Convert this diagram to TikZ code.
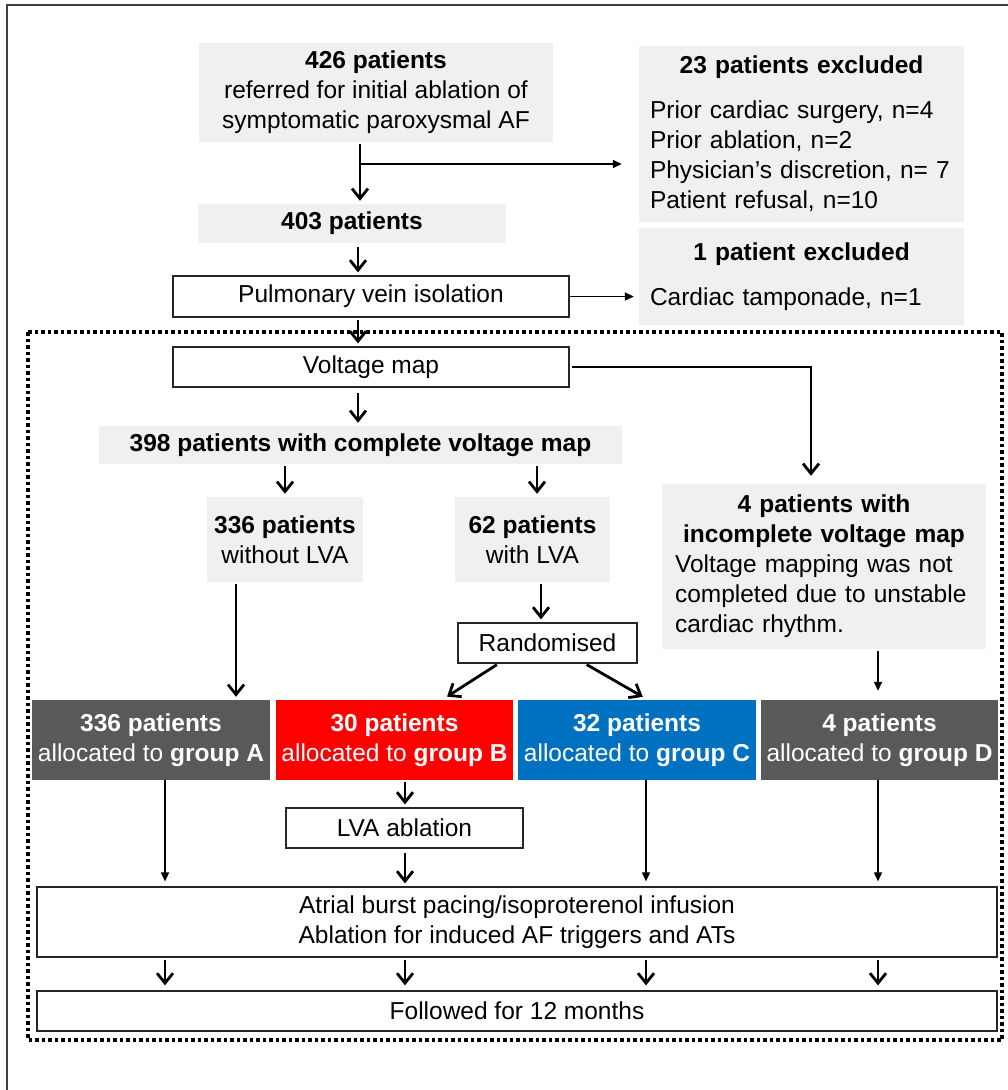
\documentclass[tikz,border=0pt]{standalone}
\usepackage{fontspec}
\setmainfont{Liberation Sans}
\usetikzlibrary{arrows.meta}
\usetikzlibrary{positioning}
\usetikzlibrary{calc}
\definecolor{grisclair}{HTML}{F0F0F0}
\definecolor{grisfonce}{HTML}{595959}
\definecolor{rouge}{HTML}{FF0000}
\definecolor{bleu}{HTML}{0070C0}
\tikzstyle{gris}=[
        rectangle,
        fill=grisclair,
        inner sep=0pt,
        align=center,
        font=\fontsize{24.5}{30}\selectfont
]
\tikzstyle{cadre}=[
        rectangle,
        draw=black!85,
        line width=1.2pt,
        fill=white,
        inner sep=0pt,
        align=center,
        font=\fontsize{24.5}{30}\selectfont
]
\tikzstyle{groupe}=[rectangle,text=white,inner sep=0pt,align=center,
minimum width=237pt,minimum height=80pt,font=\fontsize{24.5}{30}\selectfont]
\tikzstyle{suite}=[-{Straight Barb[length=10pt,width=16pt]},line width=2.8pt,
shorten >=3pt,shorten <=2pt]
\tikzstyle{fine}=[-{Triangle[length=9pt,width=8pt]},line width=1.5pt,shorten >=5pt]
\tikzstyle{pointille}=[line width=3.5pt,dash pattern=on 3.5pt off 3pt]

\begin{document}
\begin{tikzpicture}[x=1pt,y=-1pt]
\useasboundingbox (0,0) rectangle (1008,1090);
\draw[line width=2pt,black!75] (1008,5) -- (7,5) -- (7,1090);
\draw[pointille] (28,332) rectangle (1002,1040);
\node[gris,minimum width=354pt,minimum height=99pt] (a) at (376,92.5)
 {\textbf{426 patients}\\referred for initial ablation of\\symptomatic paroxysmal AF};
\node[gris,text width=303pt,inner xsep=11pt,minimum height=176pt,align=left] (e1) at (801.5,134)
 {\centering\textbf{23 patients excluded}\par\vspace{15pt}\raggedright
 Prior cardiac surgery, n=4\\Prior ablation, n=2\\Physician’s discretion, n= 7\\Patient refusal, n=10};
\node[gris,minimum width=308pt,minimum height=39pt] (b) at (352,223.5) {\textbf{403 patients}};
\node[gris,text width=303pt,inner xsep=11pt,minimum height=97pt,align=left] (e2) at (801.5,276.5)
 {\centering\textbf{1 patient excluded}\par\vspace{15pt}\raggedright Cardiac tamponade, n=1};
\node[cadre,minimum width=396pt,minimum height=41pt] (pvi) at (371,296.5) {Pulmonary vein isolation};
\node[cadre,minimum width=396pt,minimum height=40pt] (vm) at (371,367) {Voltage map};
\node[gris,minimum width=523pt,minimum height=38pt] (c) at (360.5,445)
 {\textbf{398 patients with complete voltage map}};
\node[gris,minimum width=156pt,minimum height=85pt] (s336) at (285,539.5)
 {\textbf{336 patients}\\without LVA};
\node[gris,minimum width=155pt,minimum height=85pt] (s62) at (532.5,539.5)
 {\textbf{62 patients}\\with LVA};
\node[gris,text width=298pt,inner xsep=13pt,minimum height=165pt,align=left] (s4) at (824,566.5)
 {\centering\textbf{4 patients with}\\\textbf{incomplete voltage map}\par\raggedright
 Voltage mapping was not\\completed due to unstable\\cardiac rhythm.};
\node[cadre,minimum width=179pt,minimum height=40pt] (rnd) at (547.5,643) {Randomised};
\node[groupe,fill=grisfonce,minimum width=238pt] (gA) at (151,740)
 {\textbf{336 patients}\\allocated to \textbf{group A}};
\node[groupe,fill=rouge] (gB) at (394.5,740)
 {\textbf{30 patients}\\allocated to \textbf{group B}};
\node[groupe,fill=bleu,minimum width=238pt] (gC) at (637,740)
 {\textbf{32 patients}\\allocated to \textbf{group C}};
\node[groupe,fill=grisfonce] (gD) at (879.5,740)
 {\textbf{4 patients}\\allocated to \textbf{group D}};
\node[cadre,minimum width=237pt,minimum height=40pt] (lva) at (404.5,828) {LVA ablation};
\node[cadre,minimum width=960pt,minimum height=70pt] (atr) at (517,922)
 {Atrial burst pacing/isoproterenol infusion\\Ablation for induced AF triggers and ATs};
\node[cadre,minimum width=960pt,minimum height=40pt] (fol) at (517,1011) {Followed for 12 months};
% colonnes des fleches
\coordinate (k0) at (358,0);
\coordinate (kA) at (165,0);
\coordinate (kB) at (405,0);
\coordinate (kC) at (646,0);
\coordinate (kD) at (878,0);
\coordinate (emb) at (360,164);
% fleches
\draw[suite] (a.south -| emb) -- (b.north -| emb);
\draw[fine,shorten >=17pt] (emb) -- (emb -| e1.west);
\draw[suite,shorten <=4pt] (b.south -| k0) -- (pvi.north -| k0);
\draw[fine] (pvi.east) -- (pvi.east -| e2.west);
\draw[suite] (pvi.south -| k0) -- (vm.north -| k0);
\draw[suite,shorten <=5pt] (vm.south -| k0) -- (c.north -| k0);
\draw[suite,shorten >=8pt] (vm.east) -| ([xshift=-13pt]s4.north);
\draw[suite] (c.south -| s336) -- (s336.north);
\draw[suite] ([xshift=4.5pt]c.south -| s62) -- ([xshift=4.5pt]s62.north);
\draw[suite] ([xshift=-49pt]s336.south) -- ([xshift=-49pt]s336.south |- gA.north);
\draw[suite] ([xshift=8.5pt]s62.south) -- ([xshift=8.5pt]s62.south |- rnd.north);
\draw[suite,shorten >=6pt] ([xshift=-49pt]rnd.south) -- ([xshift=47.5pt]gB.north);
\draw[suite,shorten >=6pt] ([xshift=37.5pt]rnd.south) -- ([xshift=11pt]gC.north);
\draw[fine,shorten >=9pt,shorten <=2pt] (s4.south -| kD) -- (gD.north -| kD);
\draw[fine] (gA.south -| kA) -- (atr.north -| kA);
\draw[suite] (gB.south -| kB) -- (lva.north -| kB);
\draw[suite,shorten <=4pt] (lva.south -| kB) -- (atr.north -| kB);
\draw[fine] (gC.south -| kC) -- (atr.north -| kC);
\draw[fine] (gD.south -| kD) -- (atr.north -| kD);
\foreach \k in {kA,kB,kC,kD}
  \draw[suite,shorten >=5pt] (atr.south -| \k) -- (fol.north -| \k);
\end{tikzpicture}
\end{document}
